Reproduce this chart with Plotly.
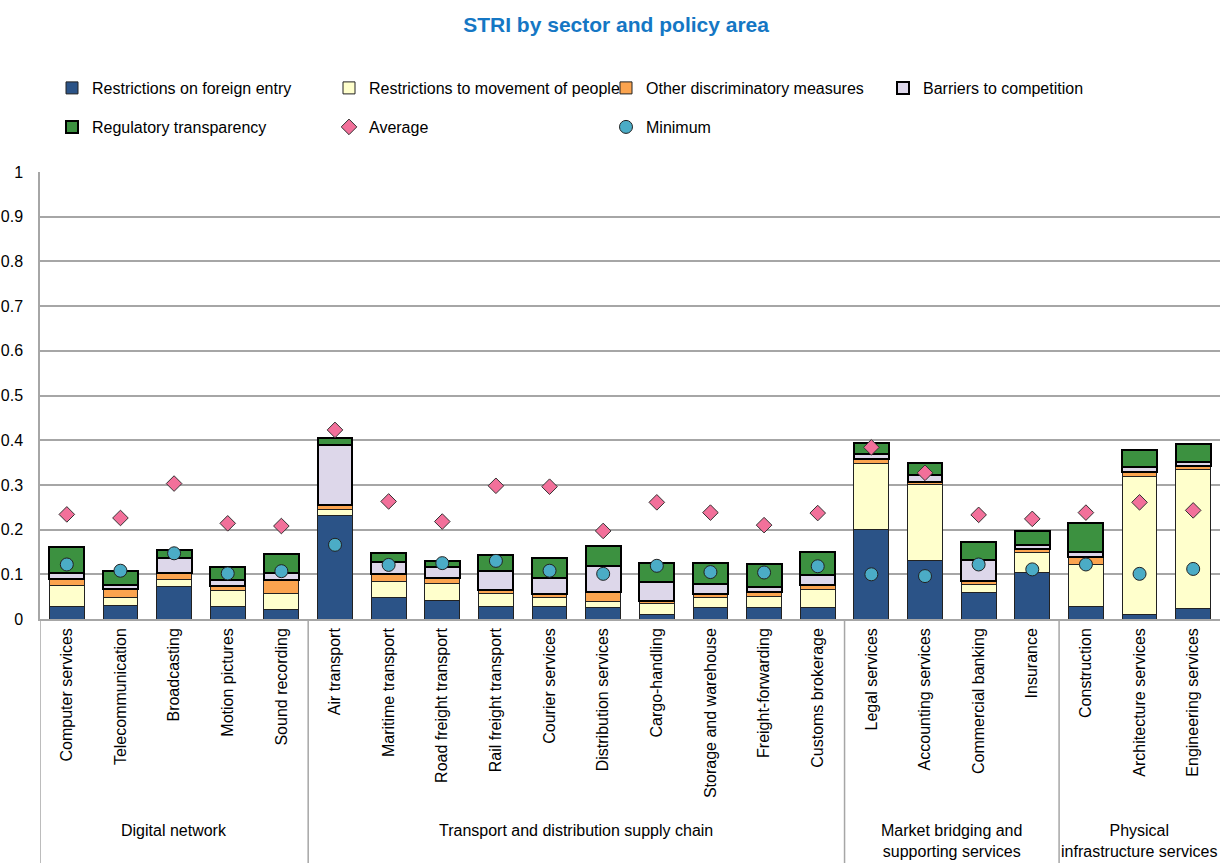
import plotly.graph_objects as go

categories = ["Computer services", "Telecommunication", "Broadcasting", "Motion pictures", "Sound recording",
              "Air transport", "Maritime transport", "Road freight transport", "Rail freight transport",
              "Courier services", "Distribution services", "Cargo-handling", "Storage and warehouse",
              "Freight-forwarding", "Customs brokerage",
              "Legal services", "Accounting services", "Commercial banking", "Insurance",
              "Construction", "Architecture services", "Engineering services"]

groups = ["Digital network", "Transport and distribution supply chain",
          "Market bridging and<br>supporting services", "Physical<br>infrastructure services"]
group_sizes = [5, 10, 4, 3]

# cumulative tops, converted to segment heights below
top_foreign = [0.027, 0.031, 0.072, 0.028, 0.022, 0.231, 0.049, 0.041, 0.027, 0.027, 0.025, 0.011, 0.025, 0.026, 0.026,
               0.201, 0.132, 0.060, 0.104, 0.028, 0.010, 0.023]
top_people = [0.076, 0.049, 0.088, 0.063, 0.057, 0.244, 0.084, 0.079, 0.056, 0.049, 0.040, 0.034, 0.049, 0.051, 0.067,
              0.349, 0.300, 0.077, 0.149, 0.123, 0.318, 0.334]
top_other = [0.089, 0.067, 0.103, 0.073, 0.087, 0.256, 0.100, 0.092, 0.065, 0.057, 0.061, 0.040, 0.057, 0.061, 0.077,
             0.357, 0.307, 0.085, 0.156, 0.139, 0.328, 0.342]
top_comp = [0.104, 0.076, 0.137, 0.087, 0.104, 0.390, 0.128, 0.116, 0.108, 0.092, 0.119, 0.082, 0.078, 0.072, 0.099,
            0.369, 0.322, 0.131, 0.166, 0.149, 0.339, 0.351]
top_transp = [0.162, 0.107, 0.155, 0.117, 0.146, 0.405, 0.147, 0.130, 0.143, 0.136, 0.164, 0.125, 0.125, 0.122, 0.149,
              0.393, 0.349, 0.172, 0.196, 0.215, 0.378, 0.391]

average = [0.234, 0.226, 0.303, 0.214, 0.208, 0.423, 0.263, 0.218, 0.298, 0.296, 0.197, 0.261, 0.238, 0.210, 0.237,
           0.384, 0.327, 0.233, 0.224, 0.238, 0.261, 0.243]
minimum = [0.122, 0.108, 0.147, 0.102, 0.107, 0.166, 0.121, 0.125, 0.130, 0.108, 0.101, 0.119, 0.105, 0.104, 0.118,
           0.100, 0.096, 0.122, 0.111, 0.122, 0.101, 0.112]

foreign = top_foreign
people = [round(b - a, 3) for a, b in zip(top_foreign, top_people)]
other = [round(b - a, 3) for a, b in zip(top_people, top_other)]
comp = [round(b - a, 3) for a, b in zip(top_other, top_comp)]
transp = [round(b - a, 3) for a, b in zip(top_comp, top_transp)]

FONT = "Liberation Sans, Arial, sans-serif"
H = 863
W = 1220

fig = go.Figure()
bar_specs = [
    ("Restrictions on foreign entry", foreign, "#2B5387", "#222222", 1, "legend"),
    ("Restrictions to movement of people", people, "#FFFFCC", "#222222", 1, "legend"),
    ("Other discriminatory measures", other, "#FBA44F", "#222222", 1, "legend"),
    ("Barriers to competition", comp, "#DDD7EA", "#000000", 2, "legend"),
    ("Regulatory transparency", transp, "#3C9140", "#000000", 2, "legend2"),
]
for name, vals, col, lcol, lw, lg in bar_specs:
    fig.add_trace(go.Bar(x=categories, y=vals, name=name, width=0.65,
                         marker=dict(color=col, line=dict(color=lcol, width=lw)),
                         legend=lg))

fig.add_trace(go.Scatter(x=categories, y=average, name="Average", mode="markers",
                         marker=dict(symbol="diamond", size=12, color="#F2709A",
                                     line=dict(color="#333333", width=1)),
                         legend="legend2"))
fig.add_trace(go.Scatter(x=categories, y=minimum, name="Minimum", mode="markers",
                         marker=dict(symbol="circle", size=13, color="#4BACC6",
                                     line=dict(color="#222222", width=1)),
                         legend="legend2"))

plot_top = 172
plot_bot = 619
ph = plot_bot - plot_top

shapes = []
bounds = [-0.5]
acc = -0.5
for s in group_sizes:
    acc += s
    bounds.append(acc)
for b in bounds[:-1]:
    shapes.append(dict(type="line", xref="x", yref="paper", x0=b, x1=b, y0=0, y1=-(H - plot_bot) / ph,
                       line=dict(color="#A6A6A6", width=1.5)))

annotations = []
for gi, g in enumerate(groups):
    center = (bounds[gi] + bounds[gi + 1]) / 2
    annotations.append(dict(x=center, xref="x", y=-(820 - plot_bot) / ph, yref="paper",
                            text=g, showarrow=False, yanchor="top", xanchor="center",
                            font=dict(family=FONT, size=16, color="#000000")))

legend_common = dict(orientation="h", xref="container", yref="container", xanchor="left", yanchor="middle",
                     font=dict(family=FONT, size=16, color="#000000"), bgcolor="rgba(0,0,0,0)",
                     entrywidth=232, itemclick=False, traceorder="normal")

fig.update_layout(
    width=W, height=H,
    barmode="stack",
    bargap=0.35,
    plot_bgcolor="white",
    paper_bgcolor="white",
    margin=dict(l=40, r=0, t=plot_top, b=H - plot_bot, autoexpand=False),
    title=dict(text="<b>STRI by sector and policy area</b>", x=0.505, xref="container", xanchor="center",
               y=1 - 25 / H, yref="container", yanchor="middle",
               font=dict(family=FONT, size=21, color="#1577C4")),
    legend=dict(x=52 / W, y=1 - 88 / H, **legend_common),
    legend2=dict(x=52 / W, y=1 - 127 / H, **legend_common),
    xaxis=dict(type="category", range=[-0.5, 21.5], tickangle=-90, showgrid=False, automargin=False,
               showline=True, linecolor="#A6A6A6", linewidth=1.5, ticks="",
               tickfont=dict(family=FONT, size=16, color="#000000"), ticklabelstandoff=1),
    yaxis=dict(range=[0, 1], dtick=0.1, tick0=0, showgrid=True, gridcolor="#A6A6A6", gridwidth=1.5,
               showline=True, linecolor="#A6A6A6", linewidth=1.5, zeroline=False, ticks="", automargin=False,
               tickfont=dict(family=FONT, size=16, color="#000000"), ticklabelstandoff=12),
    shapes=shapes,
    annotations=annotations,
    showlegend=True,
)

fig.write_html("out.html", config={"displayModeBar": False},
               post_script="document.body.style.margin='0';document.body.style.overflow='hidden';")
